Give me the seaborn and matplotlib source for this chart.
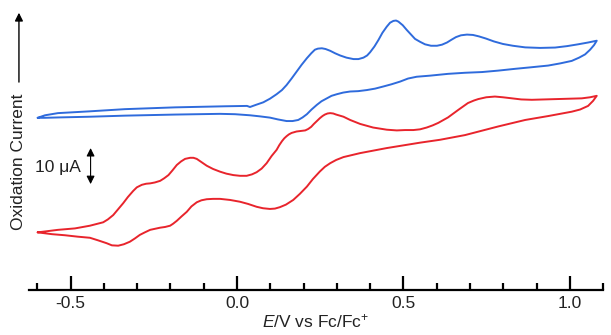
import numpy as np
import pandas as pd
import matplotlib
matplotlib.use("Agg")
import matplotlib.pyplot as plt
from matplotlib.ticker import MultipleLocator
import seaborn as sns

# --- data (E in V vs Fc/Fc+, current in uA, arbitrary offset) ---
blue_fwd_E = [-0.599, -0.577, -0.538, -0.442, -0.337, -0.186, -0.036, 0.030, 0.039, 0.057,
              0.079, 0.099, 0.119, 0.135, 0.149, 0.164, 0.179, 0.194, 0.210, 0.223,
              0.234, 0.243, 0.255, 0.266, 0.280, 0.295, 0.310, 0.329, 0.350, 0.365,
              0.380, 0.391, 0.400, 0.413, 0.425, 0.437, 0.450, 0.460, 0.470, 0.478,
              0.485, 0.498, 0.510, 0.523, 0.535, 0.550, 0.565, 0.583, 0.601, 0.616,
              0.631, 0.645, 0.658, 0.673, 0.691, 0.709, 0.727, 0.748, 0.772, 0.799,
              0.829, 0.866, 0.911, 0.956, 0.992, 1.025, 1.055, 1.081]
blue_fwd_I = [36.7, 37.4, 38.0, 38.5, 39.1, 39.6, 39.9, 40.0, 39.7, 40.3,
              41.0, 42.0, 43.25, 44.4, 45.8, 47.6, 49.5, 51.4, 53.25, 54.6,
              55.6, 55.9, 56.0, 55.8, 55.3, 54.6, 54.0, 53.4, 53.0, 53.0,
              53.4, 54.0, 54.9, 56.5, 58.3, 60.3, 62.0, 63.1, 63.6, 63.7,
              63.4, 62.4, 61.1, 59.8, 58.6, 57.8, 57.1, 56.7, 56.7, 57.0,
              57.6, 58.4, 59.1, 59.6, 59.8, 59.7, 59.3, 58.7, 57.9, 57.2,
              56.7, 56.25, 56.1, 56.2, 56.6, 57.1, 57.6, 58.1]
blue_rev_E = [1.073, 1.061, 1.046, 1.028, 1.006, 0.971, 0.935, 0.881, 0.836, 0.785,
              0.736, 0.685, 0.634, 0.580, 0.540, 0.514, 0.490, 0.464, 0.440, 0.415,
              0.390, 0.364, 0.340, 0.319, 0.300, 0.284, 0.270, 0.254, 0.240, 0.224,
              0.210, 0.197, 0.184, 0.167, 0.149, 0.123, 0.099, 0.069, 0.039, -0.006,
              -0.051, -0.186, -0.337, -0.442, -0.538, -0.577, -0.599]
blue_rev_I = [56.9, 55.6, 54.3, 53.4, 52.5, 51.8, 51.2, 50.7, 50.3, 49.8,
              49.4, 49.2, 48.9, 48.4, 48.1, 47.6, 46.75, 46.0, 45.4, 44.8,
              44.4, 44.1, 44.0, 43.7, 43.25, 42.8, 42.1, 41.3, 40.3, 39.0,
              37.7, 36.8, 36.1, 35.8, 35.8, 36.25, 36.75, 37.1, 37.4, 37.7,
              37.8, 37.6, 37.3, 37.0, 36.8, 36.7, 36.7]

red_fwd_E = [-0.599, -0.538, -0.487, -0.442, -0.402, -0.388, -0.372, -0.358, -0.342, -0.328,
             -0.312, -0.301, -0.286, -0.273, -0.261, -0.247, -0.231, -0.219, -0.206, -0.194,
             -0.181, -0.168, -0.156, -0.141, -0.131, -0.121, -0.107, -0.091, -0.072, -0.051,
             -0.032, -0.011, 0.009, 0.029, 0.045, 0.059, 0.074, 0.089, 0.104, 0.119,
             0.127, 0.135, 0.142, 0.149, 0.156, 0.164, 0.179, 0.195, 0.205, 0.214,
             0.223, 0.231, 0.240, 0.249, 0.257, 0.264, 0.272, 0.280, 0.289, 0.298,
             0.320, 0.340, 0.370, 0.409, 0.450, 0.480, 0.505, 0.530, 0.550, 0.570,
             0.588, 0.605, 0.634, 0.665, 0.694, 0.712, 0.725, 0.749, 0.775, 0.799,
             0.826, 0.854, 0.886, 0.956, 1.036, 1.061, 1.081]
red_fwd_I = [4.9, 5.6, 6.0, 6.75, 7.7, 8.5, 9.7, 11.25, 13.0, 14.7,
             16.4, 17.4, 18.1, 18.4, 18.5, 18.75, 19.2, 19.9, 20.8, 22.1,
             23.6, 24.6, 25.3, 25.6, 25.6, 25.3, 24.4, 23.4, 22.5, 21.75,
             21.2, 20.8, 20.6, 20.6, 21.0, 21.6, 22.6, 24.1, 26.1, 27.8,
             29.1, 30.2, 31.0, 31.6, 32.1, 32.5, 32.9, 33.1, 33.2, 33.6,
             34.2, 35.0, 35.8, 36.6, 37.2, 37.6, 37.9, 38.0, 37.9, 37.6,
             37.0, 36.1, 35.0, 34.0, 33.4, 33.2, 33.3, 33.3, 33.5, 34.0,
             34.6, 35.3, 36.8, 38.9, 40.8, 41.5, 41.9, 42.4, 42.6, 42.4,
             42.1, 41.8, 41.7, 41.9, 42.1, 42.4, 42.8]
red_rev_E = [1.070, 1.055, 1.031, 1.006, 0.936, 0.866, 0.785, 0.685, 0.610, 0.550,
             0.450, 0.370, 0.320, 0.298, 0.280, 0.264, 0.249, 0.228, 0.210, 0.189,
             0.169, 0.147, 0.129, 0.114, 0.099, 0.078, 0.059, 0.033, 0.009, -0.021,
             -0.051, -0.072, -0.091, -0.107, -0.121, -0.137, -0.151, -0.167, -0.181, -0.192,
             -0.201, -0.216, -0.231, -0.246, -0.261, -0.277, -0.292, -0.307, -0.322, -0.340,
             -0.357, -0.376, -0.392, -0.418, -0.442, -0.478, -0.517, -0.556, -0.583, -0.599]
red_rev_I = [41.4, 40.0, 39.0, 38.4, 37.2, 36.1, 34.3, 31.9, 30.6, 29.8,
             28.3, 26.9, 25.8, 25.0, 24.1, 23.1, 21.8, 19.7, 17.6, 15.6,
             13.9, 12.6, 11.9, 11.5, 11.4, 11.6, 12.0, 12.8, 13.4, 13.9,
             14.2, 14.2, 14.1, 13.8, 13.25, 12.1, 10.6, 9.3, 8.1, 7.3,
             6.75, 6.4, 6.2, 5.9, 5.6, 4.9, 4.2, 3.2, 2.3, 1.6,
             1.2, 1.3, 1.9, 2.7, 3.4, 3.7, 4.1, 4.4, 4.7, 4.9]

BLUE = "#2f6bdc"
RED = "#e8242c"

sns.set_theme(style="white")
plt.rcParams["font.family"] = ["Liberation Sans", "DejaVu Sans"]
plt.rcParams["mathtext.fontset"] = "custom"
plt.rcParams["mathtext.rm"] = "Liberation Sans"
plt.rcParams["mathtext.it"] = "Liberation Sans:italic"

fig = plt.figure(figsize=(6.11, 3.35), dpi=100)
ax = fig.add_axes([0.0475, 0.1343, 0.9395, 0.8657])

for E, I, c in [(blue_fwd_E + blue_rev_E, blue_fwd_I + blue_rev_I, BLUE),
                (red_fwd_E + red_rev_E, red_fwd_I + red_rev_I, RED)]:
    sns.lineplot(x=E, y=I, sort=False, estimator=None, color=c, lw=1.4,
                 solid_joinstyle="round", solid_capstyle="round", ax=ax)

ax.set_xlim(-0.625, 1.1)
ax.set_ylim(-11.1, 69.4)
ax.set_yticks([])
ax.set_ylabel("")
for s in ["left", "top", "right"]:
    ax.spines[s].set_visible(False)
ax.spines["bottom"].set_linewidth(1.6)
ax.spines["bottom"].set_color("black")

ax.xaxis.set_major_locator(MultipleLocator(0.5))
ax.xaxis.set_minor_locator(MultipleLocator(0.1))
ax.tick_params(axis="x", which="major", direction="in", length=10, width=1.6,
               color="black", labelsize=12.5, pad=4, bottom=True)
ax.tick_params(axis="x", which="minor", direction="in", length=5, width=1.6,
               color="black", bottom=True)
ax.set_xticks([-0.5, 0.0, 0.5, 1.0])
ax.set_xticklabels(["-0.5", "0.0", "0.5", "1.0"], color="#222222")
ax.set_xlabel("$E$/V vs Fc/Fc$^{+}$", fontsize=12.5, color="#222222", labelpad=1)

# scale bar
ax.annotate("", xy=(-0.44, 18.3), xytext=(-0.44, 28.3),
            arrowprops=dict(arrowstyle="<|-|>", color="black", lw=0.8,
                            mutation_scale=12, shrinkA=0, shrinkB=0))
ax.text(-0.468, 23.0, "10 \u03bcA", ha="right", va="center", fontsize=12.5, color="#222222")

# y label with arrow
fig.text(0.031, 0.518, "Oxidation Current", rotation=90, ha="center", va="center",
         fontsize=12.5, color="#222222")
ax.annotate("", xy=(0.031, 0.962), xytext=(0.031, 0.755), xycoords="figure fraction",
            textcoords="figure fraction",
            arrowprops=dict(arrowstyle="-|>", color="black", lw=1.0,
                            mutation_scale=12, shrinkA=0, shrinkB=0))

fig.savefig("out.png", dpi=100)
